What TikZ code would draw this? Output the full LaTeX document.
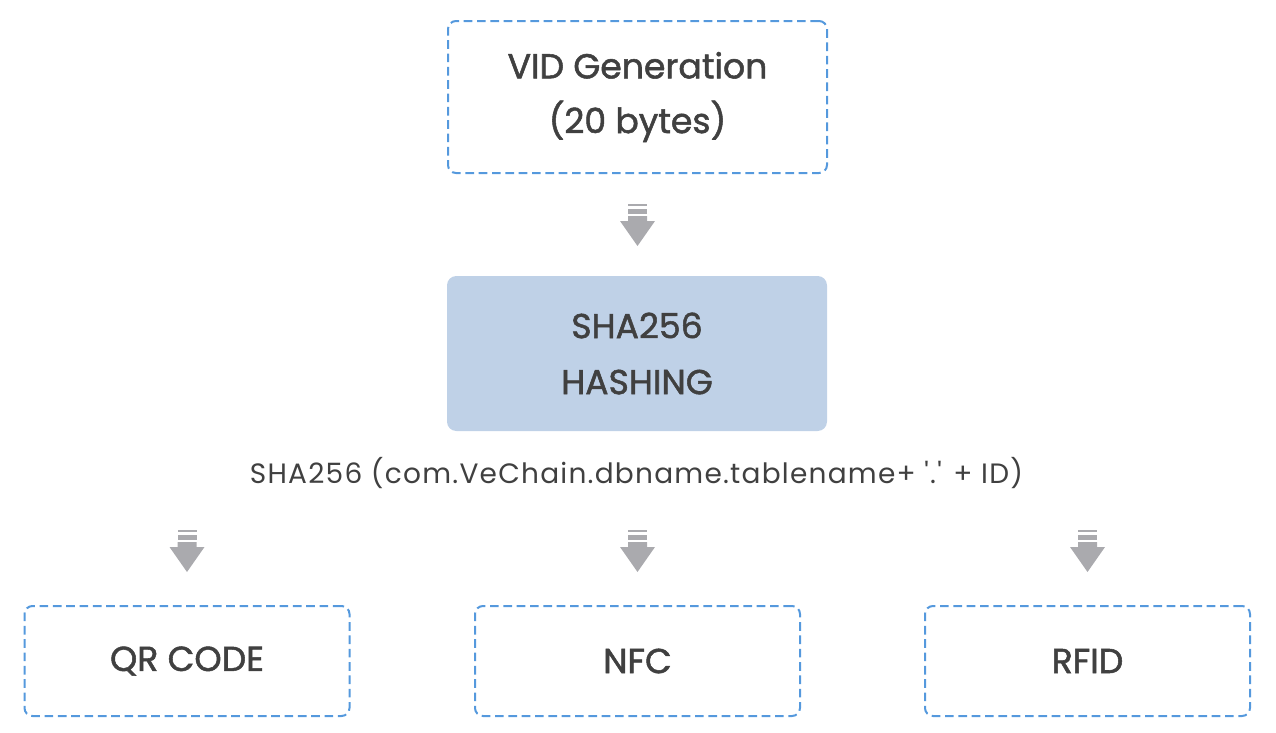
\documentclass[tikz,border=0pt]{standalone}
\usepackage{fontspec}
\setmainfont{Poppins}
\newfontfamily\boxfont{Poppins}[FakeBold=1.5]
\newfontfamily\formfont{Poppins}[Ligatures=TeXOff, LetterSpace=4.4]
\usetikzlibrary{calc}
\definecolor{dashblue}{HTML}{5599DD}
\definecolor{hashfill}{HTML}{BFD1E7}
\definecolor{txtgray}{HTML}{404040}
\definecolor{arrowgray}{HTML}{AAAAAE}
\tikzset{
  dbox/.style={draw=dashblue, line width=1.5pt, dash pattern=on 6.5pt off 3.5pt,
    rounded corners=6pt, align=center, text=txtgray,
    font=\boxfont\fontsize{26pt}{41pt}\selectfont, inner sep=0pt},
  hbox/.style={fill=hashfill, draw=none, rounded corners=7pt, align=center,
    text=txtgray, font=\boxfont\fontsize{26pt}{42pt}\selectfont, inner sep=0pt},
  formula/.style={text=txtgray, font=\formfont\fontsize{21pt}{24pt}\selectfont, inner sep=0pt},
  downarrow/.pic={
    \fill[arrowgray] (-9.5,0) rectangle (9.5,2.3);
    \fill[arrowgray] (-9.5,5) rectangle (9.5,10);
    \fill[arrowgray] (-9.5,12) -- (9.5,12) -- (9.5,17) -- (17.5,17) -- (0,42)
      -- (-17.5,17) -- (-9.5,17) -- cycle;
  }
}
\begin{document}
\begin{tikzpicture}[x=0.75pt,y=-0.75pt]
\useasboundingbox (0,0) rectangle (1276,732);
\node[dbox, minimum width=284.25pt, minimum height=114pt] (vid) at (637.5,97)
  {VID Generation\\(20 bytes)};
\node[hbox, minimum width=285pt, minimum height=116.25pt] (sha) at (637,353.5)
  {SHA256\\HASHING};
\node[formula] (form) at (636.5,473)
  {SHA256 (com.VeChain.dbname.tablename+ '.' + ID)};
\node[dbox, minimum width=243.75pt, minimum height=82.5pt] (qr) at (187,661) {QR CODE};
\node[dbox, minimum width=243.75pt, minimum height=82.5pt] (nfc) at (637.5,661) {NFC};
\node[dbox, minimum width=243.75pt, minimum height=82.5pt] (rfid) at (1087.5,661) {RFID};
\pic (a0) at ($(vid.south)+(0,30)$) {downarrow};
\pic (a1) at ($(qr.north)+(0,-75)$) {downarrow};
\pic (a2) at ($(nfc.north)+(0,-75)$) {downarrow};
\pic (a3) at ($(rfid.north)+(0,-75)$) {downarrow};
\end{tikzpicture}
\end{document}
